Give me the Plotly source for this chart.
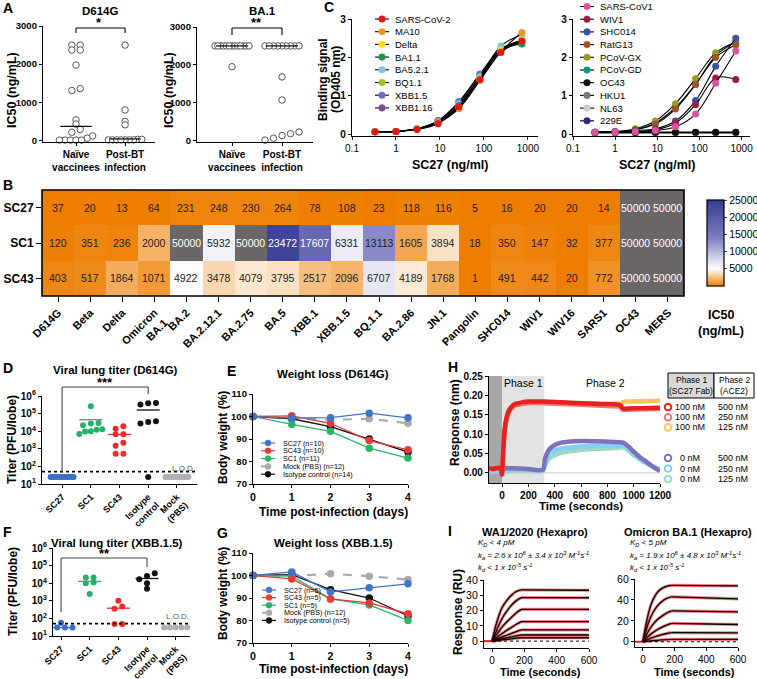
import numpy as np
import plotly.graph_objects as go

W, H = 757, 679
FONT = "Liberation Sans, Arial, sans-serif"

# ================================
# Datos
# ================================
# A: IC50 de sueros
a_groups = ["Naïve<br>vaccinees", "Post-BT<br>infection"]
a_d614g_naive = [2500, 2500, 2370, 2370, 1975, 1360, 1310, 540, 430, 290, 215, 120, 60, 10, 10, 10, 10, 10]
a_d614g_post = [2500, 800, 500, 410, 30, 30, 15, 15, 15, 15, 15, 15, 15]
a_d614g_median = [370, 40]
a_ba1_naive = [2500, 2500, 2500, 2500, 2500, 2500, 2500, 2500, 2500, 2500, 2500, 2500, 2500, 1950]
a_ba1_post = [2500, 2500, 2500, 2500, 2500, 2500, 2500, 2500, 2500, 1680, 1070, 225, 180, 130, 60, 10]
a_ba1_median = [2500, 2500]

# C: ELISA
c_conc = [0.333, 1, 3, 9, 27, 81, 243, 729]
c1_names = ["SARS-CoV-2", "MA10", "Delta", "BA1.1", "BA5.2.1", "BQ1.1", "XBB1.5", "XBB1.16"]
c1_colors = ["#e8141b", "#f7931e", "#ffe100", "#1a9641", "#74c8f0", "#9ac31c", "#6d6bc8", "#7b4fa0"]
c1_values = [
    [0.07, 0.08, 0.13, 0.28, 0.72, 1.43, 2.13, 2.43],
    [0.07, 0.08, 0.14, 0.30, 0.67, 1.40, 2.15, 2.65],
    [0.07, 0.08, 0.14, 0.30, 0.70, 1.45, 2.20, 2.45],
    [0.07, 0.08, 0.14, 0.31, 0.75, 1.45, 2.18, 2.35],
    [0.07, 0.08, 0.15, 0.33, 0.80, 1.50, 2.30, 2.60],
    [0.07, 0.08, 0.14, 0.32, 0.78, 1.50, 2.20, 2.40],
    [0.07, 0.08, 0.15, 0.35, 0.85, 1.57, 2.22, 2.45],
    [0.07, 0.08, 0.15, 0.36, 0.85, 1.55, 2.20, 2.38],
]
c2_names = ["SARS-CoV1", "WIV1", "SHC014", "RatG13", "PCoV-GX", "PCoV-GD", "OC43", "HKU1", "NL63", "229E"]
c2_colors = ["#d9559b", "#9c1a4a", "#3a53a4", "#a0522d", "#9a9a1e", "#138f8a", "#111111", "#777777", "#cccccc", "#2b2b7a"]
c2_values = [
    [0.06, 0.06, 0.07, 0.10, 0.20, 0.53, 1.33, 2.17],
    [0.06, 0.06, 0.07, 0.12, 0.30, 0.77, 1.47, 1.43],
    [0.06, 0.07, 0.10, 0.15, 0.35, 0.88, 1.77, 2.50],
    [0.06, 0.07, 0.12, 0.27, 0.66, 1.30, 2.00, 2.33],
    [0.06, 0.07, 0.15, 0.35, 0.80, 1.45, 2.12, 2.40],
    [0.06, 0.07, 0.13, 0.30, 0.70, 1.30, 2.05, 2.40],
    [0.05, 0.05, 0.05, 0.06, 0.06, 0.06, 0.06, 0.06],
    [0.05, 0.05, 0.05, 0.05, 0.05, 0.05, 0.05, 0.05],
    [0.04, 0.04, 0.04, 0.04, 0.04, 0.04, 0.04, 0.04],
    [0.05, 0.05, 0.05, 0.05, 0.05, 0.05, 0.05, 0.05],
]

# B: heatmap IC50
b_variants = ["D614G", "Beta", "Delta", "Omicron<br>BA.1", "BA.2", "BA.2.12.1", "BA.2.75", "BA.5", "XBB.1",
              "XBB.1.5", "BQ.1.1", "BA.2.86", "JN.1", "Pangolin", "SHC014", "WIV1", "WIV16", "SARS1", "OC43", "MERS"]
b_antibodies = ["SC27", "SC1", "SC43"]
b_sc27 = [37, 20, 13, 64, 231, 248, 230, 264, 78, 108, 23, 118, 116, 5, 16, 20, 20, 14, 50000, 50000]
b_sc1 = [120, 351, 236, 2000, 50000, 5932, 50000, 23472, 17607, 6331, 13113, 1605, 3894, 18, 350, 147, 32, 377, 50000, 50000]
b_sc43 = [403, 517, 1864, 1071, 4922, 3478, 4079, 3795, 2517, 2096, 6707, 4189, 1768, 1, 491, 442, 20, 772, 50000, 50000]

# D / F: títulos virales
t_groups = ["SC27", "SC1", "SC43", "Isotype<br>control", "Mock<br>(PBS)"]
t_colors = ["#3b6fc4", "#22b36b", "#ee2b2b", "#111111", "#b0b0b0"]
d_sc27 = [25, 25, 25, 25, 25, 25, 25, 25, 25, 25, 25, 25]
d_sc1 = [2.6e5, 2.9e4, 2.7e4, 2.2e4, 1.3e4, 1.2e4, 1.0e4, 9.5e3, 7.0e3]
d_sc43 = [1.9e4, 1.4e4, 6.8e3, 6.8e3, 2.2e3, 1.5e3, 5.3e2, 5.3e2]
d_iso = [4.0e5, 3.3e5, 3.9e5, 3.7e4, 2.7e4, 3.3e4, 25]
d_mock = [25, 25, 25, 25, 25, 25, 25, 25, 25, 25, 25, 25]
d_means = [25, 4.5e4, 6.5e3, 1.6e5, 25]
f_sc27 = [57, 30, 30, 30, 30]
f_sc1 = [2.1e4, 2.1e4, 1.1e4, 1.0e4, 2.4e3]
f_sc43 = [1.0e3, 4.7e2, 3.5e2, 48, 48]
f_iso = [3.7e4, 2.6e4, 1.7e4, 1.0e4, 4.8e3]
f_mock = [30, 30, 30, 30, 30]
f_means = [30, 1.26e4, 3.8e2, 1.85e4, 30]
lod = 50

# E / G: peso corporal
days = [0, 1, 2, 3, 4]
w_colors = ["#3f74c8", "#e83a3a", "#2bb36b", "#aaaaaa", "#111111"]
e_names = ["SC27 (n=10)", "SC43 (n=10)", "SC1 (n=11)", "Mock (PBS) (n=12)", "Isotype control (n=14)"]
e_sc27 = [100, 99.3, 99.5, 101.5, 99.4]
e_sc43 = [100, 100.3, 97.0, 89.3, 85.2]
e_sc1 = [100, 96.5, 93.4, 85.9, 81.5]
e_mock = [100, 99.5, 98.5, 99.0, 97.0]
e_iso = [100, 99.0, 95.5, 90.0, 84.2]
g_names = ["SC27 (n=5)", "SC43 (n=5)", "SC1 (n=5)", "Mock (PBS) (n=12)", "Isotype control (n=5)"]
g_sc27 = [100, 101.6, 92.7, 94.5, 96.3]
g_sc43 = [100, 98.5, 89.6, 87.8, 83.0]
g_sc1 = [100, 99.7, 89.6, 86.9, 80.0]
g_mock = [100, 99.8, 100.8, 99.7, 98.2]
g_iso = [100, 100.4, 93.7, 90.0, 82.0]

# H: BLI
h_t_fab = [-100, -70, -40, -10, -2, 3, 10, 20, 35, 50, 75, 100, 150, 200, 320, 450, 600, 750, 900, 915, 950, 1050, 1200]
h_red = [0.012, 0.010, 0.013, 0.011, -0.004, 0.020, 0.070, 0.115, 0.145, 0.160, 0.172, 0.178, 0.182, 0.184, 0.184, 0.182, 0.180, 0.178, 0.175, 0.166, 0.166, 0.167, 0.168]
h_pink = [0.012, 0.010, 0.013, 0.011, -0.004, 0.018, 0.065, 0.110, 0.140, 0.156, 0.168, 0.174, 0.178, 0.180, 0.180, 0.178, 0.176, 0.173, 0.170, 0.163, 0.163, 0.164, 0.165]
h_orange = [0.012, 0.010, 0.013, 0.011, -0.004, 0.018, 0.066, 0.112, 0.142, 0.158, 0.170, 0.176, 0.180, 0.182, 0.182, 0.180, 0.178, 0.178, 0.180, 0.182, 0.184, 0.185, 0.186]
h_t_ace2 = [-100, -50, -10, 0, 100, 200, 310, 325, 340, 360, 400, 450, 550, 700, 850, 920, 960, 1000, 1050, 1100, 1150, 1200]
h_purple = [0.012, 0.011, 0.012, 0.012, 0.012, 0.010, 0.008, 0.035, 0.050, 0.062, 0.072, 0.078, 0.082, 0.082, 0.080, 0.078, 0.068, 0.055, 0.040, 0.028, 0.015, 0.005]
h_sky = [0.005, 0.005, 0.006, 0.006, 0.008, 0.008, 0.006, 0.025, 0.038, 0.050, 0.058, 0.063, 0.067, 0.070, 0.070, 0.070, 0.062, 0.050, 0.036, 0.026, 0.016, 0.010]
h_mint = [0.004, 0.004, 0.005, 0.005, 0.006, 0.006, 0.005, 0.018, 0.028, 0.038, 0.046, 0.052, 0.057, 0.062, 0.064, 0.066, 0.058, 0.046, 0.034, 0.024, 0.016, 0.010]
h_labels_fab = ["100 nM", "100 nM", "100 nM", "0 nM", "0 nM", "0 nM"]
h_labels_ace2 = ["500 nM", "250 nM", "125 nM", "500 nM", "250 nM", "125 nM"]
h_colors = ["#e8201f", "#ef7a78", "#fbc45a", "#7e72bf", "#83d0f2", "#9fd9c3"]

# I: SPR
i_t_assoc = [0, 20, 40, 60, 90, 120, 150, 180]
i_t_end = 600
wa1_assoc = [
    [0, 9, 16, 21.5, 26.5, 30, 32.5, 33.5],
    [0, 5, 10, 14.5, 19.5, 23.5, 26.5, 28.5],
    [0, 3, 6, 9, 12.5, 15.5, 18.5, 20.8],
    [0, 1.5, 3.2, 4.8, 7, 9, 11, 12.8],
    [0, 0.8, 1.7, 2.6, 3.8, 5, 6.2, 7.3],
    [0, 0.4, 0.9, 1.4, 2.1, 2.8, 3.4, 4.0],
    [0, 0.2, 0.5, 0.8, 1.1, 1.5, 1.9, 2.2],
]
wa1_end = [33.3, 28.4, 20.8, 12.8, 7.3, 4.0, 2.2]
ba1_assoc = [
    [0, 17, 30, 39, 47, 51, 53, 54],
    [0, 11, 20, 27, 34, 38.5, 41.5, 43],
    [0, 6, 11.5, 16, 21, 24.5, 27.5, 29.5],
    [0, 3, 6, 8.5, 11.5, 14, 16, 17.5],
    [0, 1.4, 2.8, 4, 5.5, 6.8, 7.9, 8.7],
    [0, 0.3, 0.7, 1, 1.4, 1.8, 2.1, 2.3],
]
ba1_end = [53.5, 41, 28.5, 16.5, 8.5, 2.2]


# ================================
# Helpers
# ================================
def fx(p):
    return p / W


def fy(p):
    return 1 - p / H


fig = go.Figure()
ann = []
shapes = []
layout_axes = {}


def tf(size, bold=True):
    return dict(family=FONT, size=size, color="black", weight="bold" if bold else "normal")


AX = dict(showline=True, linecolor="black", linewidth=1.3, ticks="outside", ticklen=3, tickwidth=1.3,
          tickcolor="black", showgrid=False, zeroline=False, tickfont=tf(10))


def set_axes(n, xdom, ydom, xkw, ykw):
    xk = "xaxis" if n == 1 else f"xaxis{n}"
    yk = "yaxis" if n == 1 else f"yaxis{n}"
    xa = dict(AX, domain=[fx(xdom[0]), fx(xdom[1])], anchor="y" if n == 1 else f"y{n}")
    ya = dict(AX, domain=[fy(ydom[1]), fy(ydom[0])], anchor="x" if n == 1 else f"x{n}")
    xa.update(xkw)
    ya.update(ykw)
    layout_axes[xk] = xa
    layout_axes[yk] = ya


def refs(n):
    return ("x", "y") if n == 1 else (f"x{n}", f"y{n}")


def text(x, y, s, size=10, bold=False, angle=0, xanchor="center", color="black"):
    ann.append(dict(x=fx(x), y=fy(y), xref="paper", yref="paper", text=s, showarrow=False,
                    font=dict(family=FONT, size=size, color=color, weight="bold" if bold else "normal"),
                    textangle=angle, xanchor=xanchor, yanchor="middle"))


def seg(x0, y0, x1, y1, color="black", width=1.2, dash="solid"):
    shapes.append(dict(type="line", xref="paper", yref="paper", x0=fx(x0), y0=fy(y0), x1=fx(x1), y1=fy(y1),
                       line=dict(color=color, width=width, dash=dash)))


def dot(cx, cy, r, fill, line_color, lw=1):
    shapes.append(dict(type="circle", xref="paper", yref="paper", x0=fx(cx - r), x1=fx(cx + r),
                       y0=fy(cy + r), y1=fy(cy - r), fillcolor=fill, line=dict(color=line_color, width=lw)))


def swarm(vals, center, tol, step, maxw):
    vals = np.asarray(vals, dtype=float)
    order = np.argsort(vals)
    xs = np.zeros(len(vals))
    groups, cur = [], [order[0]]
    for i in order[1:]:
        if abs(vals[i] - vals[cur[-1]]) < tol:
            cur.append(i)
        else:
            groups.append(cur)
            cur = [i]
    groups.append(cur)
    for g in groups:
        n = len(g)
        s = step if n < 2 else min(step, maxw / (n - 1))
        for k, i in enumerate(g):
            xs[i] = center + (k - (n - 1) / 2) * s
    return xs


# ================================
# A: IC50 sueros
# ================================
a_panels = [
    (1, (43, 155), (26, 142), [-0.673, 1.61], a_d614g_naive, a_d614g_post, a_d614g_median),
    (2, (197, 313), (27, 142), [-0.70, 1.62], a_ba1_naive, a_ba1_post, a_ba1_median),
]
for n, xd, yd, xr, naive, post, med in a_panels:
    xr_, yr_ = refs(n)
    for c, vals in enumerate([naive, post]):
        fig.add_trace(go.Scatter(
            x=swarm(vals, c, 80, 0.17, 0.68), y=vals, mode="markers", xaxis=xr_, yaxis=yr_,
            marker=dict(symbol="circle", size=6.5, color="white", line=dict(color="#555", width=1)),
            cliponaxis=False, hoverinfo="skip"))
        fig.add_trace(go.Scatter(x=[c - 0.32, c + 0.32], y=[med[c], med[c]], mode="lines",
                                 xaxis=xr_, yaxis=yr_, line=dict(color="black", width=1.2), hoverinfo="skip"))
    set_axes(n, xd, yd,
             dict(range=xr, tickvals=[0, 1], ticktext=a_groups, tickangle=0, tickfont=tf(10)),
             dict(range=[-40, 3000], tickvals=[0, 1000, 2000, 3000], tickfont=tf(9.5)))

text(100, 11, "D614G", 11.5, True)
text(262, 11, "BA.1", 11.5, True)
text(12, 90, "IC50 (ng/mL)", 12.5, True, -90)
text(169, 90, "IC50 (ng/mL)", 12.5, True, -90)
# corchetes A
for n, legb, stars, sx in [(1, 33, "*", 99), (2, 35, "**", 256)]:
    xr_ = "x" if n == 1 else f"x{n}"
    for xa, xb, ya, yb in [(0, 0, 28, legb), (1, 1, 28, legb), (0, 1, 28, 28)]:
        shapes.append(dict(type="line", xref=xr_, yref="paper", x0=xa, x1=xb, y0=fy(ya), y1=fy(yb),
                           line=dict(color="black", width=1.1)))
    text(sx, 23, stars, 13, True)

# ================================
# C: curvas de unión
# ================================
c_panels = [
    (3, (352, 538), [-1, 3.23], c1_names, c1_colors, c1_values),
    (4, (573, 750), [-1, 3.2], c2_names, c2_colors, c2_values),
]
for n, xd, xr, names, colors, values in c_panels:
    xr_, yr_ = refs(n)
    for i in range(len(names) - 1, -1, -1):
        fig.add_trace(go.Scatter(x=c_conc, y=values[i], mode="lines+markers", xaxis=xr_, yaxis=yr_,
                                 line=dict(color="black", width=1.1, shape="spline", smoothing=1.0),
                                 marker=dict(size=7, color=colors[i]), cliponaxis=False, hoverinfo="skip"))
    set_axes(n, xd, (19, 136),
             dict(type="log", range=xr, tickvals=[0.1, 1, 10, 100, 1000],
                  ticktext=["0.1", "1", "10", "100", "1000"], tickfont=tf(10, False)),
             dict(range=[-0.04, 3], tickvals=[0, 1, 2, 3], tickfont=tf(10)))

text(323, 80, "Binding signal", 12, True, -90)
text(336, 80, "(OD405 nm)", 12, True, -90)
text(450, 165, "SC27 (ng/ml)", 12.5, True)
text(657, 165, "SC27 (ng/ml)", 12.5, True)


def legend_c(names, colors, mx, y0, dy):
    for i, nm in enumerate(names):
        y = y0 + i * dy
        seg(mx - 7, y, mx + 7, y, "black", 1.1)
        dot(mx, y, 3.3, colors[i], colors[i], 0.5)
        text(mx + 11, y, nm, 9.5, False, 0, "left")


legend_c(c1_names, c1_colors, 382, 19, 12.7)
legend_c(c2_names, c2_colors, 587, 6.5, 12.7)

# ================================
# B: heatmap
# ================================
b_rows = [b_sc27, b_sc1, b_sc43]
z_main = [[v if v < 50000 else None for v in row] for row in b_rows]
z_gray = [[1 if v >= 50000 else None for v in row] for row in b_rows]
cols = list(range(len(b_variants)))
fig.add_trace(go.Heatmap(
    z=z_main, x=cols, y=[0, 1, 2], xaxis="x5", yaxis="y5", zmin=0, zmax=25000,
    colorscale=[[0, "#ee7d00"], [0.2, "#ffffff"], [0.55, "#8080c0"], [1, "#343c92"]],
    hoverinfo="skip",
    colorbar=dict(x=fx(697), xanchor="left", y=fy(296), yanchor="bottom", len=(296 - 190) / H,
                  lenmode="fraction", thickness=17, outlinecolor="black", outlinewidth=1.2,
                  tickvals=[5000, 10000, 15000, 20000, 25000], tickformat="d", ticks="outside", ticklen=3,
                  tickfont=tf(10.5, False))))
fig.add_trace(go.Heatmap(z=z_gray, x=cols, y=[0, 1, 2], xaxis="x5", yaxis="y5", showscale=False,
                         colorscale=[[0, "#6b6767"], [1, "#6b6767"]], hoverinfo="skip"))
for r, row in enumerate(b_rows):
    for c, v in enumerate(row):
        ann.append(dict(x=c, y=r, xref="x5", yref="y5", text=str(v), showarrow=False,
                        font=dict(family=FONT, size=10.5, color="white" if v >= 15000 else "#222")))
set_axes(5, (42, 684), (190, 296),
         dict(range=[-0.5, 19.5], tickvals=cols, ticktext=b_variants, tickangle=-45, showline=False,
              ticklen=5, tickfont=tf(11)),
         dict(range=[2.5, -0.5], tickvals=[0, 1, 2], ticktext=b_antibodies, showline=False, ticklen=5,
              tickfont=tf(12)))
shapes.append(dict(type="rect", xref="x5 domain", yref="y5 domain", x0=0, x1=1, y0=0, y1=1,
                   line=dict(color="black", width=1.6)))
text(721, 315, "IC50", 12.5, True)
text(721, 331, "(ng/mL)", 12.5, True)

# ================================
# D / F: títulos virales
# ================================
t_panels = [
    (6, (42, 197), (396, 484), [-0.7, 4.7], [d_sc27, d_sc1, d_sc43, d_iso, d_mock], d_means),
    (8, (53, 190), (548, 636), [-0.28, 4.5], [f_sc27, f_sc1, f_sc43, f_iso, f_mock], f_means),
]
for n, xd, yd, xr, groups, means in t_panels:
    xr_, yr_ = refs(n)
    for g, vals in enumerate(groups):
        fig.add_trace(go.Scatter(x=swarm(np.log10(vals), g, 0.2, 0.27, 0.8), y=vals, mode="markers",
                                 xaxis=xr_, yaxis=yr_, marker=dict(size=6, color=t_colors[g]),
                                 cliponaxis=False, hoverinfo="skip"))
        fig.add_trace(go.Scatter(x=[g - 0.4, g + 0.4], y=[means[g], means[g]], mode="lines",
                                 xaxis=xr_, yaxis=yr_, line=dict(color=t_colors[g], width=1.3),
                                 cliponaxis=False, hoverinfo="skip"))
    set_axes(n, xd, yd,
             dict(range=xr, tickvals=list(range(5)), ticktext=t_groups, tickangle=-45, tickfont=tf(9)),
             dict(type="log", range=[1, 6], tickvals=[10, 1e2, 1e3, 1e4, 1e5, 1e6],
                  ticktext=[f"10<sup>{k}</sup>" for k in range(1, 7)], tickfont=tf(10)))
    shapes.append(dict(type="line", xref=f"x{n} domain", yref=f"y{n}", x0=0, x1=1, y0=lod, y1=lod,
                       line=dict(color="black", width=1.8, dash="dot")))

text(115, 370, "Viral lung titer (D614G)", 11.5, True)
text(117, 543, "Viral lung titer (XBB.1.5)", 11.5, True)
text(12, 440, "Titer (PFU/lobe)", 12, True, -90)
text(13, 592, "Titer (PFU/lobe)", 12, True, -90)
text(197, 468, "L.O.D.", 8, False, 0, "right", "#555")
text(191, 616, "L.O.D.", 8, False, 0, "right", "#555")
for n, top, lb, rb, stars in [(6, 387, 473, 394, "***"), (8, 558, 612, 567, "**")]:
    for xa, xb, ya, yb in [(0, 0, top, lb), (3, 3, top, rb), (0, 3, top, top)]:
        shapes.append(dict(type="line", xref=f"x{n}", yref="paper", x0=xa, x1=xb, y0=fy(ya), y1=fy(yb),
                           line=dict(color="#444", width=1.1)))
    ann.append(dict(x=1.5, xref=f"x{n}", y=fy(top - 5), yref="paper", text=stars, showarrow=False,
                    font=dict(family=FONT, size=13, color="black", weight="bold"), yanchor="middle"))

# ================================
# E / G: peso
# ================================
w_panels = [
    (7, (394, 484), [e_sc27, e_sc43, e_sc1, e_mock, e_iso], e_names, 443, 7.8, 268),
    (9, (553, 643), [g_sc27, g_sc43, g_sc1, g_mock, g_iso], g_names, 590, 7.6, 269),
]
for n, yd, series, names, ly0, ldy, lmx in w_panels:
    xr_, yr_ = refs(n)
    for i in [3, 4, 2, 1, 0]:
        mock = i == 3
        fig.add_trace(go.Scatter(x=days, y=series[i], mode="lines+markers", xaxis=xr_, yaxis=yr_,
                                 line=dict(color=w_colors[i], width=2.2 if mock else 1.3,
                                           dash="dash" if mock else "solid"),
                                 marker=dict(size=7.5, color=w_colors[i]), cliponaxis=False, hoverinfo="skip"))
    set_axes(n, (253, 408), yd,
             dict(range=[0, 4], tickvals=days, tickfont=tf(10.5)),
             dict(range=[70, 110], tickvals=[70, 80, 90, 100, 110], tickfont=tf(9.5)))
    for i, nm in enumerate(names):
        y = ly0 + i * ldy
        seg(lmx - 7, y, lmx + 7, y, w_colors[i], 2 if i == 3 else 1.2, "dash" if i == 3 else "solid")
        dot(lmx, y, 3, w_colors[i], w_colors[i], 0.5)
        text(lmx + 13, y, nm, 7.2, False, 0, "left")

text(333, 374, "Weight loss (D614G)", 11.5, True)
text(333, 543, "Weight loss (XBB.1.5)", 11.5, True)
text(223, 437, "Body weight (%)", 12, True, -90)
text(223, 593, "Body weight (%)", 12, True, -90)
text(333, 512, "Time post-infection (days)", 12, True)
text(333, 669, "Time post-infection (days)", 12, True)

# ================================
# H: BLI
# ================================
shapes.append(dict(type="rect", xref="x10", yref="y10 domain", x0=-100, x1=0, y0=0, y1=1,
                   fillcolor="#a8a8a8", line=dict(width=0), layer="below"))
shapes.append(dict(type="rect", xref="x10", yref="y10 domain", x0=0, x1=320, y0=0, y1=1,
                   fillcolor="#e3e3e3", line=dict(width=0), layer="below"))
shapes.append(dict(type="line", xref="x10", yref="y10", x0=0, x1=1200, y0=0, y1=0,
                   line=dict(color="#bbbbbb", width=0.8), layer="below"))
for t, vals, col in [(h_t_ace2, h_mint, h_colors[5]), (h_t_ace2, h_sky, h_colors[4]),
                     (h_t_ace2, h_purple, h_colors[3]), (h_t_fab, h_orange, h_colors[2]),
                     (h_t_fab, h_pink, h_colors[1]), (h_t_fab, h_red, h_colors[0])]:
    fig.add_trace(go.Scatter(x=t, y=vals, mode="lines", xaxis="x10", yaxis="y10",
                             line=dict(color=col, width=4.5, shape="spline", smoothing=0.6), hoverinfo="skip"))
set_axes(10, (489, 660), (376, 483),
         dict(range=[-100, 1200], tickvals=[0, 200, 400, 600, 800, 1000, 1200], tickfont=tf(10)),
         dict(range=[-0.026, 0.25], tickvals=[0, 0.05, 0.10, 0.15, 0.20, 0.25], tickformat=".2f",
              tickfont=tf(10)))
text(523, 383, "Phase 1", 10.5)
text(605, 383, "Phase 2", 10.5)
text(455, 423, "Response (nm)", 12, True, -90)
text(581, 506, "Time (seconds)", 11.5, True)
# tabla de leyenda H
shapes.append(dict(type="rect", xref="paper", yref="paper", x0=fx(668), x1=fx(714), y0=fy(398), y1=fy(373),
                   fillcolor="#d9d9d9", line=dict(color="black", width=1)))
shapes.append(dict(type="rect", xref="paper", yref="paper", x0=fx(714), x1=fx(754), y0=fy(398), y1=fy(373),
                   fillcolor="white", line=dict(color="black", width=1)))
text(691, 380, "Phase 1", 8.5)
text(691, 391, "(SC27 Fab)", 8.5)
text(734, 380, "Phase 2", 8.5)
text(734, 391, "(ACE2)", 8.5)
for i, (l1, l2) in enumerate(zip(h_labels_fab, h_labels_ace2)):
    y = (407 + i * 10.2) if i < 3 else (458 + (i - 3) * 10.5)
    dot(668, y, 3.3, "white", h_colors[i], 2)
    text(690, y, l1, 9)
    text(733, y, l2, 9)

# ================================
# I: SPR
# ================================
i_panels = [
    (11, (484, 589), (580, 648), [-4.5, 40], [0, 10, 20, 30, 40], wa1_assoc, wa1_end),
    (12, (635, 738), (579, 647), [-5, 60], [0, 20, 40, 60], ba1_assoc, ba1_end),
]
for n, xd, yd, yr, yt, assoc, ends in i_panels:
    xr_, yr_ = refs(n)
    fig.add_trace(go.Scatter(x=[-50, 0], y=[0, 0], mode="lines", xaxis=xr_, yaxis=yr_,
                             line=dict(color="#e82020", width=2), hoverinfo="skip"))
    for col, wd in [("rgba(232,32,32,0.55)", 3.2), ("black", 1.3)]:
        for k in range(len(assoc)):
            fig.add_trace(go.Scatter(x=i_t_assoc, y=assoc[k], mode="lines", xaxis=xr_, yaxis=yr_,
                                     line=dict(color=col, width=wd, shape="spline", smoothing=0.8),
                                     hoverinfo="skip"))
            fig.add_trace(go.Scatter(x=[i_t_assoc[-1], i_t_end], y=[assoc[k][-1], ends[k]], mode="lines",
                                     xaxis=xr_, yaxis=yr_, line=dict(color=col, width=wd), hoverinfo="skip"))
    set_axes(n, xd, yd,
             dict(range=[-50, 600], tickvals=[0, 200, 400, 600], tickfont=tf(10, False)),
             dict(range=yr, tickvals=yt, tickfont=tf(10.5, False)))
    shapes.append(dict(type="line", xref=xr_, yref=yr_, x0=0, x1=600, y0=0, y1=0,
                       line=dict(color="black", width=1, dash="dot")))

text(535, 532, "WA1/2020 (Hexapro)", 11, True)
text(688, 532, "Omicron BA.1 (Hexapro)", 11, True)
text(458, 612, "Response (RU)", 12, True, -90)
text(540, 672, "Time (seconds)", 11, True)
text(694, 672, "Time (seconds)", 11, True)
kin = [
    (476, ["<i>K<sub>D</sub> &lt; 4 pM</i>",
           "<i>k<sub>a</sub> = 2.6 x 10<sup>6</sup> ± 3.4 x 10<sup>3</sup> M<sup>-1</sup>s<sup>-1</sup></i>",
           "<i>k<sub>d</sub> &lt; 1 x 10<sup>-5</sup> s<sup>-1</sup></i>"]),
    (628, ["<i>K<sub>D</sub> &lt; 5 pM</i>",
           "<i>k<sub>a</sub> = 1.9 x 10<sup>6</sup> ± 4.8 x 10<sup>3</sup> M<sup>-1</sup>s<sup>-1</sup></i>",
           "<i>k<sub>d</sub> &lt; 1 x 10<sup>-5</sup> s<sup>-1</sup></i>"]),
]
for x0, lines in kin:
    for j, s in enumerate(lines):
        text(x0, 543 + j * 12, s, 8, False, 0, "left")

# ================================
# letras de panel
# ================================
for lt, x, y in [("A", 1, 8), ("C", 322, 7), ("B", 1, 185), ("D", 1, 368), ("E", 225, 371),
                 ("H", 446, 367), ("F", 1, 532), ("G", 215, 533), ("I", 446, 531)]:
    text(x, y, lt, 14, True, 0, "left")

fig.update_layout(
    width=W, height=H, margin=dict(l=0, r=0, t=0, b=0, autoexpand=False),
    paper_bgcolor="white", plot_bgcolor="rgba(0,0,0,0)",
    showlegend=False, font=dict(family=FONT, color="black"),
    annotations=ann, shapes=shapes, **layout_axes,
)

# página sin margen para que la figura ocupe la ventana
fig.write_html("out.html", config={"displayModeBar": False},
               post_script="document.body.style.margin='0';document.body.style.overflow='hidden';")
